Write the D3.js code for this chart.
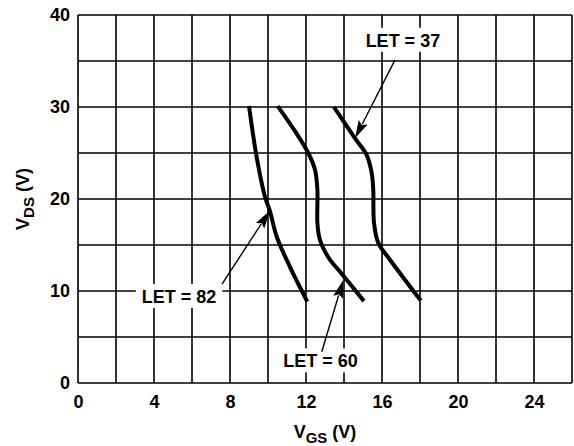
<!DOCTYPE html>
<html>
<head>
<meta charset="utf-8">
<script src="https://cdn.jsdelivr.net/npm/d3@7"></script>
<style>
  body { margin: 0; background: #fff; }
  text { font-family: Arial, "Liberation Sans", sans-serif; font-weight: bold; fill: #000; }
</style>
</head>
<body>
<script>
// tick labels
const xTicks = [0, 4, 8, 12, 16, 20, 24];
const yTicks = [0, 10, 20, 30, 40];
const xGrid = d3.range(0, 27, 2);
const yGrid = d3.range(0, 41, 5);

// curves, [VGS, VDS] from top to bottom
const let82 = [[9.0, 30.1], [9.4, 24.6], [9.84, 20.25], [10.1, 18.7], [10.46, 15.9], [11.16, 12.6], [12.07, 8.84]];
const let60 = [[10.51, 30.1], [11.51, 27.1], [12.12, 25.0], [12.47, 23.2], [12.6, 21.0], [12.6, 17.4], [12.74, 15.5], [13.26, 13.4], [13.79, 12.1], [15.05, 8.9]];
const let37 = [[13.47, 30.0], [14.58, 26.6], [15.19, 24.8], [15.46, 22.8], [15.54, 21.0], [15.58, 17.4], [15.81, 15.2], [16.42, 13.4], [18.04, 8.95]];

// callouts: label, text anchor point, arrow start, arrow tip (data units)
const labels = ["LET = 37", "LET = 82", "LET = 60"];
const labelPos = [[17.1, 36.55], [5.32, 8.7], [12.76, 1.7]];
const arrowFrom = [[16.68, 35.1], [7.58, 10.76], [12.83, 3.4]];
const arrowTo = [[14.58, 26.6], [10.1, 18.73], [13.96, 11.2]];

const width = 574, height = 446;
const m = { left: 78, right: 572, top: 15, bottom: 383 };

const svg = d3.select("body").append("svg")
    .attr("width", width)
    .attr("height", height);

const x = d3.scaleLinear().domain([0, 26]).range([m.left, m.right]);
const y = d3.scaleLinear().domain([0, 40]).range([m.bottom, m.top]);

// grid
svg.append("g")
    .selectAll("line")
    .data(xGrid)
    .enter()
    .append("line")
    .attr("x1", d => x(d)).attr("x2", d => x(d))
    .attr("y1", y(0)).attr("y2", y(40))
    .attr("stroke", "#000").attr("stroke-width", 1.6);

svg.append("g")
    .selectAll("line")
    .data(yGrid)
    .enter()
    .append("line")
    .attr("y1", d => y(d)).attr("y2", d => y(d))
    .attr("x1", x(0)).attr("x2", x(26))
    .attr("stroke", "#000").attr("stroke-width", 1.6);

// axes (labels only)
const xAxis = svg.append("g")
    .attr("transform", `translate(0,${m.bottom})`)
    .call(d3.axisBottom(x).tickValues(xTicks).tickSize(0).tickPadding(12));
const yAxis = svg.append("g")
    .attr("transform", `translate(${m.left},0)`)
    .call(d3.axisLeft(y).tickValues(yTicks).tickSize(0).tickPadding(8));
[xAxis, yAxis].forEach(a => {
    a.select(".domain").remove();
    a.attr("font-family", null).attr("font-size", null);
    a.selectAll("text").attr("font-size", 18).style("fill", "#000");
});

// curves
const line = d3.line()
    .x(d => x(d[0]))
    .y(d => y(d[1]))
    .curve(d3.curveCatmullRom.alpha(0.5));

svg.append("g")
    .selectAll("path")
    .data([let82, let60, let37])
    .enter()
    .append("path")
    .attr("d", line)
    .attr("fill", "none")
    .attr("stroke", "#000")
    .attr("stroke-width", 4);

// callouts
labels.forEach((lab, i) => {
    const g = svg.append("g");
    const rect = g.append("rect").attr("fill", "#fff");
    const t = g.append("text")
        .attr("x", x(labelPos[i][0]))
        .attr("y", y(labelPos[i][1]))
        .attr("text-anchor", "middle")
        .attr("font-size", 18)
        .text(lab);
    const bb = t.node().getBBox();
    rect.attr("x", bb.x - 6).attr("y", bb.y - 3)
        .attr("width", bb.width + 12).attr("height", bb.height + 4);

    const x0 = x(arrowFrom[i][0]), y0 = y(arrowFrom[i][1]);
    const x1 = x(arrowTo[i][0]), y1 = y(arrowTo[i][1]);
    const len = Math.hypot(x1 - x0, y1 - y0);
    const ux = (x1 - x0) / len, uy = (y1 - y0) / len;
    const hl = 18, hw = 5;
    const bx = x1 - ux * hl, by = y1 - uy * hl;
    g.append("line")
        .attr("x1", x0).attr("y1", y0)
        .attr("x2", bx + ux * 2).attr("y2", by + uy * 2)
        .attr("stroke", "#000").attr("stroke-width", 1.4);
    g.append("path")
        .attr("d", `M${x1},${y1}L${bx - uy * hw},${by + ux * hw}L${bx + ux * 3},${by + uy * 3}L${bx + uy * hw},${by - ux * hw}Z`)
        .attr("fill", "#000");
});

// axis titles
const xt = svg.append("text")
    .attr("x", (m.left + m.right) / 2)
    .attr("y", 438)
    .attr("text-anchor", "middle")
    .attr("font-size", 18);
xt.append("tspan").text("V");
xt.append("tspan").attr("font-size", 15).attr("dy", 5).text("GS");
xt.append("tspan").attr("dy", -5).text(" (V)");

const yt = svg.append("text")
    .attr("transform", `translate(29,${(m.top + m.bottom) / 2}) rotate(-90)`)
    .attr("text-anchor", "middle")
    .attr("font-size", 18);
yt.append("tspan").text("V");
yt.append("tspan").attr("font-size", 15).attr("dy", 5).text("DS");
yt.append("tspan").attr("dy", -5).text(" (V)");
</script>
</body>
</html>
